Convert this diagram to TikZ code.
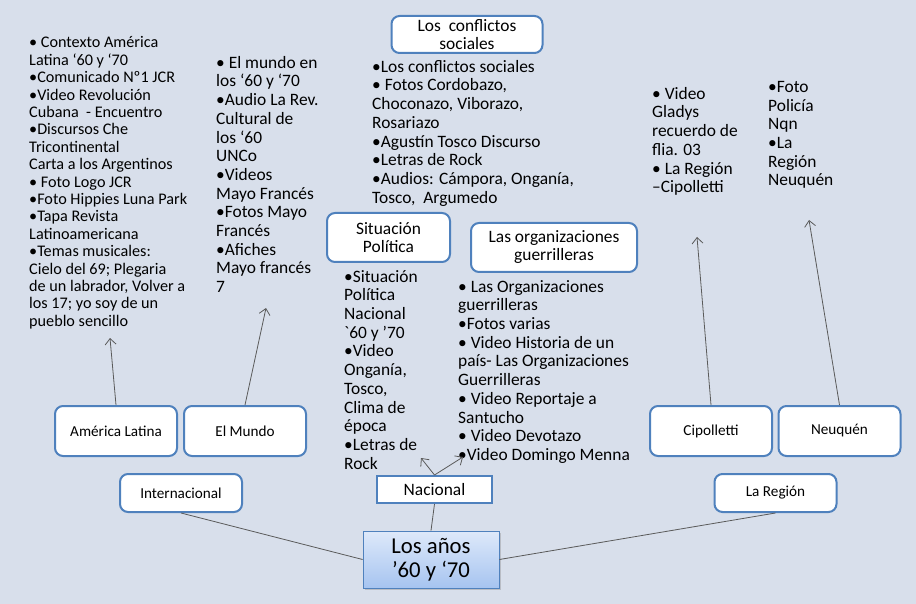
\documentclass[tikz,border=0pt]{standalone}
\usepackage{fontspec}
\setmainfont{Carlito}
\usetikzlibrary{arrows.meta}
\usetikzlibrary{shadows}
\definecolor{paper}{RGB}{216,223,235}
\definecolor{frame}{RGB}{79,129,189}
\definecolor{wire}{RGB}{90,90,90}
\definecolor{skytop}{RGB}{222,233,250}
\definecolor{skybot}{RGB}{166,196,240}

\begin{document}
\begin{tikzpicture}[x=1pt, y=-1pt,
    topic/.style={draw=frame, line width=2pt, rounded corners=8pt, fill=white, align=center,
        inner sep=0pt, font=\fontsize{17.4}{18}\selectfont},
    leaf/.style={topic, minimum width=122pt, minimum height=50pt, font=\fontsize{15.2}{17}\selectfont},
    items/.style={anchor=north west, align=left, inner sep=0pt, font=\fontsize{17.4}{18.7}\selectfont},
    link/.style={draw=wire, line width=0.8pt},
    arr/.style={link, -{Straight Barb[length=6pt,width=11pt]}}]
    \fill[paper] (0,0) rectangle (916,604);

    \node[topic, minimum width=151pt, minimum height=37pt] (confl) at (467,34.5) {Los\ \ conflictos\\sociales};
    \node[topic, minimum width=123pt, minimum height=49pt] (polit) at (388.5,237.5) {Situación\\Política};
    \node[topic, minimum width=166pt, minimum height=49pt] (guerr) at (554,247.5) {Las organizaciones\\guerrilleras};
    \node[leaf] (amlat) at (116,431) {América Latina};
    \node[leaf] (mundo) at (245,431) {El Mundo};
    \node[leaf, minimum height=38pt] (inter) at (181,493) {Internacional};
    \node[leaf] (cipo) at (711,431) {Cipolletti};
    \node[leaf] (neuq) at (839.5,431) {Neuquén};
    \node[leaf, minimum height=38pt] (region) at (775.5,493) {La Región};
    \node[topic, rounded corners=0pt, minimum width=115pt, minimum height=27pt] (nac) at (434.5,489.5) {Nacional};
    \node[draw=frame, line width=0.8pt, top color=skytop, bottom color=skybot,
        drop shadow={shadow xshift=2pt, shadow yshift=-2pt, opacity=0.35},
        minimum width=136pt, minimum height=57pt, align=center, inner sep=0pt,
        font=\fontsize{22.7}{24}\selectfont] (anios) at (431,559.5) {Los años\\’60 y ‘70};

    \node[items, font=\fontsize{16.2}{17.4}\selectfont] (amlatTxt) at (29,36.5) {• Contexto América\\Latina ‘60 y ‘70\\•Comunicado Nº1 JCR\\•Video Revolución\\Cubana\ \ - Encuentro\\•Discursos Che\\Tricontinental\\Carta a los Argentinos\\• Foto Logo JCR\\•Foto Hippies Luna Park\\•Tapa Revista\\Latinoamericana\\•Temas musicales:\\Cielo del 69; Plegaria\\de un labrador, Volver a\\los 17; yo soy de un\\pueblo sencillo};
    \node[items] (mundoTxt) at (216,56) {• El mundo en\\los ‘60 y ‘70\\•Audio La Rev.\\Cultural de\\los ‘60\\UNCo\\•Videos\\Mayo Francés\\•Fotos Mayo\\Francés\\•Afiches\\Mayo francés\\7};
    \node[items] (conflTxt) at (372,60) {•Los conflictos sociales\\• Fotos Cordobazo,\\Choconazo, Viborazo,\\Rosariazo\\•Agustín Tosco Discurso\\•Letras de Rock\\•Audios: Cámpora, Onganía,\\Tosco,\ \ Argumedo};
    \node[items] (politTxt) at (344,270) {•Situación\\Política\\Nacional\\\textasciigrave 60 y ’70\\•Video\\Onganía,\\Tosco,\\Clima de\\época\\•Letras de\\Rock};
    \node[items] (guerrTxt) at (458,280) {• Las Organizaciones\\guerrilleras\\•Fotos varias\\• Video Historia de un\\país- Las Organizaciones\\Guerrilleras\\• Video Reportaje a\\Santucho\\• Video Devotazo\\•Video Domingo Menna};
    \node[items] (cipoTxt) at (652,87) {• Video\\Gladys\\recuerdo de\\flia. 03\\• La Región\\–Cipolletti};
    \node[items] (neuqTxt) at (768,81) {•Foto\\Policía\\Nqn\\•La\\Región\\Neuquén};

    \coordinate (amlatTip) at (110,338);
    \coordinate (mundoTip) at (266,308);
    \coordinate (cipoTip) at (697,237);
    \coordinate (neuqTip) at (809,220);
    \coordinate (politTip) at (421,458);
    \coordinate (guerrTip) at (463,457);

    \draw[arr] (amlat.north) -- (amlatTip);
    \draw[arr] (mundo.north) -- (mundoTip);
    \draw[arr] (cipo.north) -- (cipoTip);
    \draw[arr] (neuq.north) -- (neuqTip);
    \draw[arr] (nac.north) -- (politTip);
    \draw[arr] (nac.north) -- (guerrTip);
    \draw[link] (inter.south) -- (anios.west);
    \draw[link] (nac.south) -- (anios.north);
    \draw[link] (region.south) -- (anios.east);
\end{tikzpicture}
\end{document}
